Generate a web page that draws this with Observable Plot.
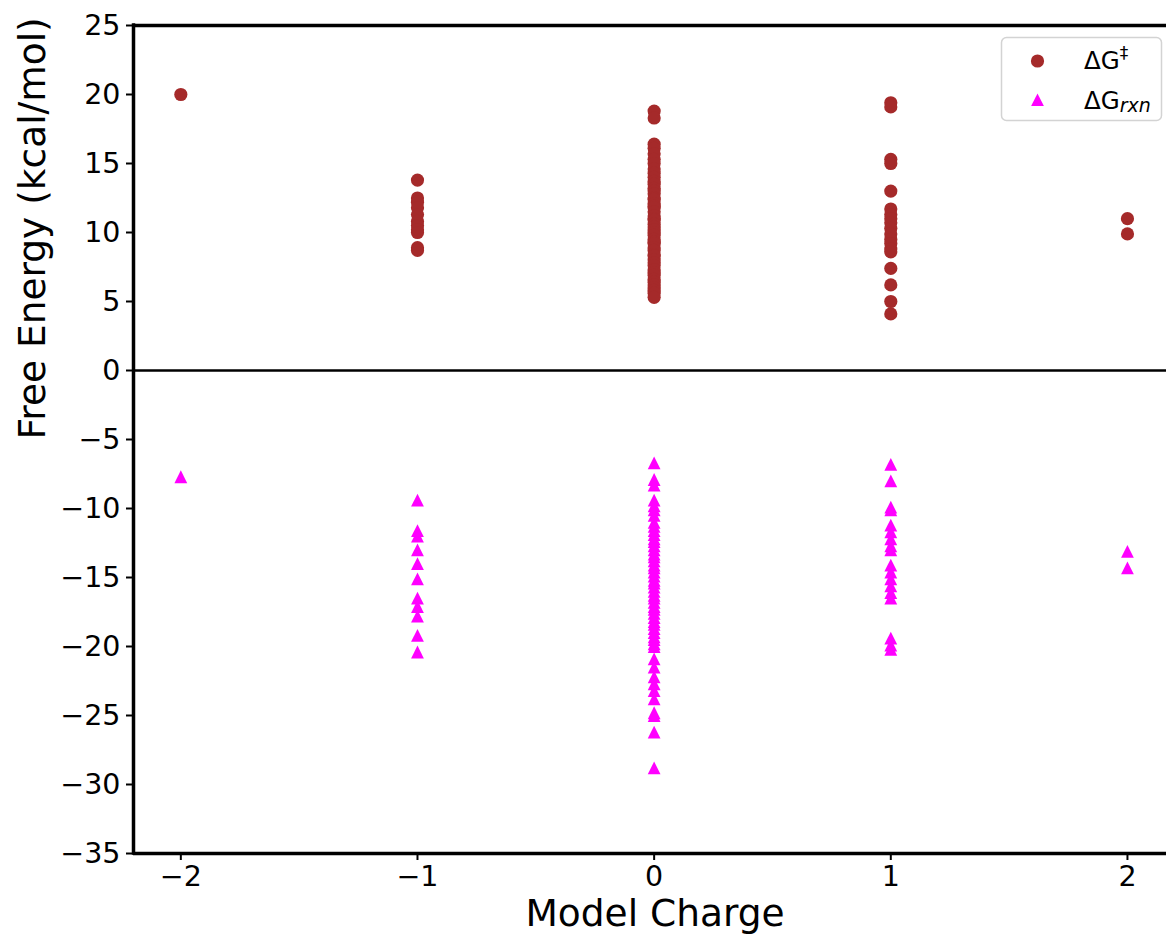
<!DOCTYPE html>
<html>
<head>
<meta charset="utf-8">
<script src="https://cdn.jsdelivr.net/npm/d3@7"></script>
<script src="https://cdn.jsdelivr.net/npm/@observablehq/plot@0.6"></script>
<style>
  html, body { margin: 0; padding: 0; background: white; }
  #wrap { position: relative; width: 1166px; height: 938px; overflow: hidden; font-family: "DejaVu Sans", sans-serif; }
  #legend { position: absolute; left: 0; top: 0; }
</style>
</head>
<body>
<div id="wrap"></div>
<script>
// ---- Data ----
const charges = [-2, -1, 0, 1, 2];
const xTicks = [-2, -1, 0, 1, 2];
const yTicks = [25, 20, 15, 10, 5, 0, -5, -10, -15, -20, -25, -30, -35];

// ΔG‡ (activation free energy) per model charge
const barrierM2 = [20.0];
const barrierM1 = [13.8, 12.5, 12.2, 11.8, 11.3, 10.8, 10.5, 10.2, 10.0, 8.9, 8.7];
const barrier0 = [18.8, 18.3, 16.4, 16.1, 15.7, 15.3, 15.0, 14.6, 14.3, 14.0, 13.7, 13.5, 13.2, 13.0, 12.8,
  12.5, 12.4, 12.1, 11.9, 11.8, 11.5, 11.2, 11.0, 10.9, 10.6, 10.4, 10.2, 10.0, 9.8, 9.5, 9.3, 9.2, 8.9,
  8.7, 8.4, 8.3, 8.0, 7.8, 7.6, 7.3, 7.1, 6.9, 6.6, 6.4, 6.2, 6.0, 5.8, 5.6, 5.3];
const barrierP1 = [19.4, 19.1, 15.3, 15.0, 13.0, 11.7, 11.3, 11.0, 10.7, 10.3, 9.9, 9.5, 9.2, 8.8, 8.6, 7.4, 6.2, 5.0, 4.1];
const barrierP2 = [11.0, 9.9];

// ΔG_rxn (reaction free energy) per model charge
const rxnM2 = [-7.7];
const rxnM1 = [-9.4, -11.6, -12.0, -13.0, -14.0, -15.1, -16.5, -17.1, -17.8, -19.2, -20.4];
const rxn0 = [-6.7, -7.9, -8.3, -9.4, -9.8, -10.1, -10.5, -11.0, -11.3, -11.6, -11.9, -12.2, -12.4, -12.7,
  -13.0, -13.3, -13.5, -13.8, -14.1, -14.3, -14.6, -14.9, -15.2, -15.4, -15.7, -16.0, -16.3, -16.5, -16.8,
  -17.1, -17.3, -17.6, -17.9, -18.2, -18.4, -18.7, -19.0, -19.3, -19.5, -19.8, -20.0, -20.9, -21.5, -22.2,
  -22.7, -23.2, -23.8, -24.8, -25.0, -26.2, -28.8];
const rxnP1 = [-6.8, -8.0, -9.9, -10.1, -11.2, -11.7, -12.2, -12.7, -13.0, -14.1, -14.6, -15.1, -15.6, -16.1, -16.5, -19.4, -19.9, -20.2];
const rxnP2 = [-13.1, -14.3];

// ---- Build tables ----
const barrierSets = [barrierM2, barrierM1, barrier0, barrierP1, barrierP2];
const rxnSets = [rxnM2, rxnM1, rxn0, rxnP1, rxnP2];
const barrierData = barrierSets.flatMap((vals, i) => vals.map(v => ({charge: charges[i], energy: v})));
const rxnData = rxnSets.flatMap((vals, i) => vals.map(v => ({charge: charges[i], energy: v})));

const BROWN = "#a52a2a";
const MAGENTA = "#ff00ff";

// matplotlib-like "^" marker (width == height, centred on its box)
const mplTriangle = {
  draw(context, size) {
    const r = Math.sqrt(size / Math.PI);
    context.moveTo(0, -r);
    context.lineTo(r, r);
    context.lineTo(-r, r);
    context.closePath();
  }
};

const fmt = d => d < 0 ? "\u2212" + Math.abs(d) : String(d);

const chart = Plot.plot({
  width: 1166,
  height: 938,
  marginLeft: 133,
  marginRight: 0,
  marginTop: 25,
  marginBottom: 85,
  x: {domain: [-2.2, 2.165]},
  y: {domain: [-35, 25]},
  style: {fontFamily: "DejaVu Sans", background: "white", color: "black", overflow: "visible"},
  marks: [
    Plot.ruleY([0], {stroke: "black", strokeWidth: 2.6}),
    Plot.dot(barrierData, {x: "charge", y: "energy", r: 6.6, fill: BROWN, stroke: null}),
    Plot.dot(rxnData, {x: "charge", y: "energy", r: 6.4, fill: MAGENTA, stroke: null, symbol: mplTriangle}),
    Plot.axisX({ticks: xTicks, tickFormat: fmt, tickSize: 7, tickPadding: 5, fontSize: 28.5, strokeWidth: 2, label: null}),
    Plot.axisY({ticks: yTicks, tickFormat: fmt, tickSize: 7, tickPadding: 6, fontSize: 28.5, strokeWidth: 2, label: null}),
    Plot.ruleY([25], {stroke: "black", strokeWidth: 3.5}),
    Plot.ruleY([-35], {stroke: "black", strokeWidth: 3.5}),
    Plot.ruleX([-2.2], {stroke: "black", strokeWidth: 3.5, strokeLinecap: "square"}),
    Plot.text(["Model Charge"], {frameAnchor: "bottom", dx: 5, dy: 72, fontSize: 37.5, fill: "black"}),
    Plot.text(["Free Energy (kcal/mol)"], {frameAnchor: "left", dx: -101, rotate: -90, fontSize: 37.5, fill: "black"})
  ]
});

const wrap = document.getElementById("wrap");
wrap.appendChild(chart);

// ---- Legend ----
const ns = "http://www.w3.org/2000/svg";
const leg = document.createElementNS(ns, "svg");
leg.setAttribute("id", "legend");
leg.setAttribute("width", 1166);
leg.setAttribute("height", 938);
leg.innerHTML = `
  <rect x="1001.5" y="37.5" width="160" height="83" rx="5" ry="5" fill="white" fill-opacity="0.85" stroke="#d3d3d3" stroke-width="1.5"/>
  <circle cx="1037.5" cy="61" r="6.6" fill="${BROWN}"/>
  <path d="M1037.5,93.6 L1043.9,106 L1031.1,106 Z" fill="${MAGENTA}"/>
  <text x="1084" y="69" font-family="DejaVu Sans" font-size="24.5" fill="black">ΔG<tspan font-size="17" dy="-10">‡</tspan></text>
  <text x="1084" y="108.5" font-family="DejaVu Sans" font-size="24.5" fill="black">ΔG<tspan font-size="19" font-style="italic" dy="3">rxn</tspan></text>
`;
wrap.appendChild(leg);
</script>
</body>
</html>
